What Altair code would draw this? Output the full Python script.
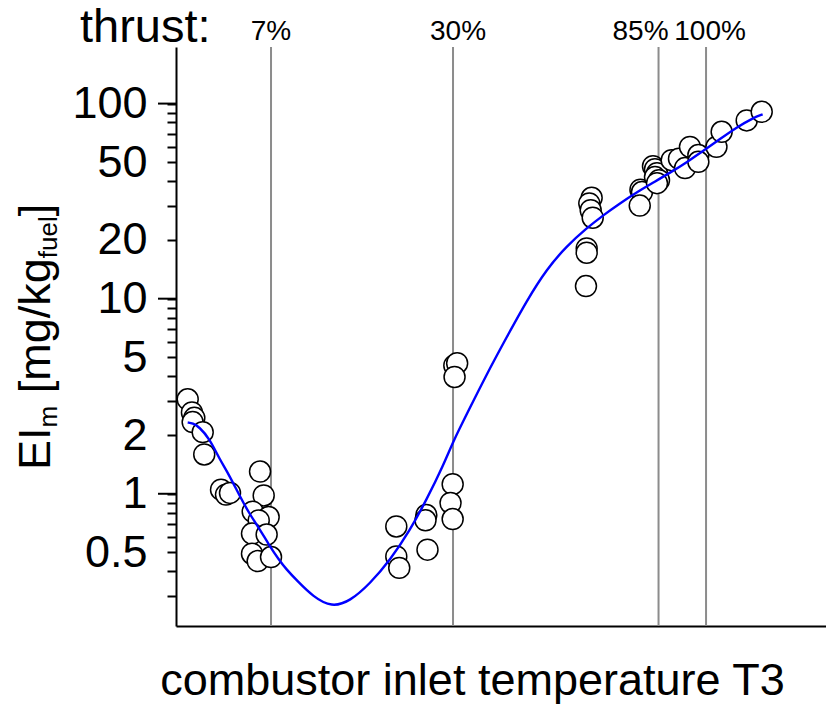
import altair as alt
import pandas as pd

FONT = "Liberation Sans"

# Measured emission index EI_m [mg/kg fuel] against combustor inlet temperature T3 [K]
low_T3 = [379.9, 383.5, 385.5, 384.1, 392.6, 393.9, 408.1, 412.3, 415.7, 441.1,
          444.2, 434.9, 448.4, 440.0, 434.3, 446.7, 434.3, 439.1, 450.4]
low_EI = [3.05, 2.61, 2.45, 2.33, 2.07, 1.59, 1.05, 0.99, 1.01, 1.30,
          0.98, 0.81, 0.76, 0.73, 0.625, 0.618, 0.493, 0.452, 0.474]

mid_T3 = [605.5, 607.9, 605.7, 604.1, 602.3, 604.1, 581.8, 581.1, 556.4, 556.4, 558.9, 582.8]
mid_EI = [4.55, 4.67, 3.97, 1.12, 0.897, 0.742, 0.778, 0.731, 0.68, 0.477, 0.417, 0.517]

high_T3 = [721.7, 719.7, 720.9, 722.6, 717.5, 717.5, 716.9, 763.0, 764.3, 762.4,
           773.6, 775.3, 777.0, 775.3, 778.7, 777.0, 789.4, 795.6, 800.7, 804.9,
           812.0, 812.0, 827.3, 831.7, 852.9, 865.6]
high_EI = [32.9, 30.8, 28.4, 26.0, 18.1, 17.2, 11.6, 36.2, 35.2, 30.0,
           47.8, 46.1, 44.0, 42.0, 40.5, 39.1, 51.3, 52.2, 46.7, 60.0,
           54.5, 50.3, 60.0, 71.7, 82.0, 90.8]

# Fitted correlation curve
fit_T3 = [379.9, 384.1, 389.7, 398.2, 406.6, 415.1, 423.6, 432.0, 440.5, 448.9,
          457.4, 463.1, 472.1, 486.2, 501.7, 517.2, 534.1, 551.0, 568.0, 582.1,
          596.2, 604.6, 616.0, 632.9, 649.8, 666.7, 683.7, 700.6, 717.5, 731.6,
          745.7, 759.8, 773.9, 788.0, 802.1, 816.2, 830.3, 844.4, 858.5, 866.4]
fit_EI = [2.318, 2.299, 2.201, 1.919, 1.515, 1.244, 0.982, 0.792, 0.663, 0.544,
          0.456, 0.412, 0.360, 0.296, 0.262, 0.281, 0.346, 0.456, 0.650, 0.935,
          1.40, 1.86, 2.56, 4.10, 6.35, 9.75, 14.2, 18.6, 23.0, 26.8,
          30.8, 35.1, 39.4, 44.2, 50.0, 57.2, 65.8, 75.5, 84.6, 88.0]

# Engine thrust settings and their T3
thrust_labels = ["7%", "30%", "85%", "100%"]
thrust_T3 = [450.4, 604.4, 778.3, 818.5]
thrust_nudge = [0, 5, -18, 4]

# Log axis ticks and the subset that gets a label
y_ticks = [0.3, 0.4, 0.5, 0.6, 0.7, 0.8, 0.9,
           1, 2, 3, 4, 5, 6, 7, 8, 9,
           10, 20, 30, 40, 50, 60, 70, 80, 90, 100]
y_labelled = [0.5, 1, 2, 5, 10, 20, 50, 100]
y_decades = [1, 10, 100]

points = pd.DataFrame({"T3": low_T3 + mid_T3 + high_T3,
                       "EI": low_EI + mid_EI + high_EI})
fit = pd.DataFrame({"T3": fit_T3, "EI": fit_EI})
thrust = pd.DataFrame({"T3": thrust_T3, "label": thrust_labels, "nudge": thrust_nudge})
decades = pd.DataFrame({"EI": y_decades})

x_scale = alt.Scale(domain=[370, 920], nice=False, zero=False)
y_scale = alt.Scale(type="log", domain=[0.21, 195], nice=False)

label_test = "indexof([" + ",".join(str(v) for v in y_labelled) + "], datum.value) >= 0"

x_enc = alt.X("T3:Q", scale=x_scale,
              axis=alt.Axis(labels=False, ticks=False, grid=False,
                            domainColor="black", domainWidth=2,
                            title="combustor inlet temperature T3",
                            titleFont=FONT, titleFontSize=45, titleFontWeight="normal",
                            titleColor="black", titleX=296, titleY=68,
                            titleAlign="center", titleBaseline="alphabetic"))
y_enc = alt.Y("EI:Q", scale=y_scale,
              axis=alt.Axis(values=y_ticks, grid=False, title=None,
                            domainColor="black", domainWidth=2,
                            tickColor="black", tickWidth=2, tickSize=9,
                            labelExpr=label_test + " ? format(datum.value, '~g') : ''",
                            labelFont=FONT, labelFontSize=45, labelColor="black",
                            labelPadding=20, labelOverlap=False, labelFlush=False,
                            labelBaseline="middle"))

rules = alt.Chart(thrust).mark_rule(color="#8c8c8c", strokeWidth=2).encode(
    x=alt.X("T3:Q", scale=x_scale))

# longer ticks at each decade
major_ticks = alt.Chart(decades).mark_rule(color="black", strokeWidth=2).encode(
    y=alt.Y("EI:Q", scale=y_scale), x=alt.value(-18), x2=alt.value(0))

dots = alt.Chart(points).mark_point(
    shape="circle", filled=True, fill="white", stroke="black",
    strokeWidth=1.5, size=440, opacity=1).encode(x=x_enc, y=y_enc)

curve = alt.Chart(fit).mark_line(color="#0000ff", strokeWidth=2.4,
                                 interpolate="basis").encode(
    x=alt.X("T3:Q", scale=x_scale), y=alt.Y("EI:Q", scale=y_scale))

thrust_text = [
    alt.Chart(thrust[thrust["label"] == lab]).mark_text(
        font=FONT, fontSize=28, baseline="alphabetic", align="center",
        dx=float(n), color="black").encode(
        x=alt.X("T3:Q", scale=x_scale), y=alt.value(-7), text="label:N")
    for lab, n in zip(thrust_labels, thrust_nudge)
]

thrust_head = alt.Chart(pd.DataFrame({"t": ["thrust:"]})).mark_text(
    font=FONT, fontSize=47, align="left", baseline="alphabetic", color="black"
).encode(x=alt.value(-96), y=alt.value(-5), text="t:N")

# y title built piecewise so the subscripts can be drawn smaller and lowered
title_parts = [("EI", 45, 423.0, -126), ("m", 26, 380.5, -119),
               ("[mg/kg", 45, 346.3, -126), ("fuel", 26, 211.2, -119),
               ("]", 45, 169.3, -126)]
y_title = [
    alt.Chart(pd.DataFrame({"t": [txt]})).mark_text(
        font=FONT, fontSize=fs, angle=270, align="left", baseline="alphabetic",
        color="black").encode(x=alt.value(bx), y=alt.value(start), text="t:N")
    for txt, fs, start, bx in title_parts
]

chart = alt.layer(rules, major_ticks, dots, curve, thrust_head, *thrust_text, *y_title).properties(
    width=650, height=579,
    padding={"left": 176, "top": 47, "right": 0, "bottom": 78},
    autosize=alt.AutoSizeParams(type="none"),
    background="white",
).configure_view(stroke=None)

chart.save("out.html", embed_options={"renderer": "svg", "actions": False})
